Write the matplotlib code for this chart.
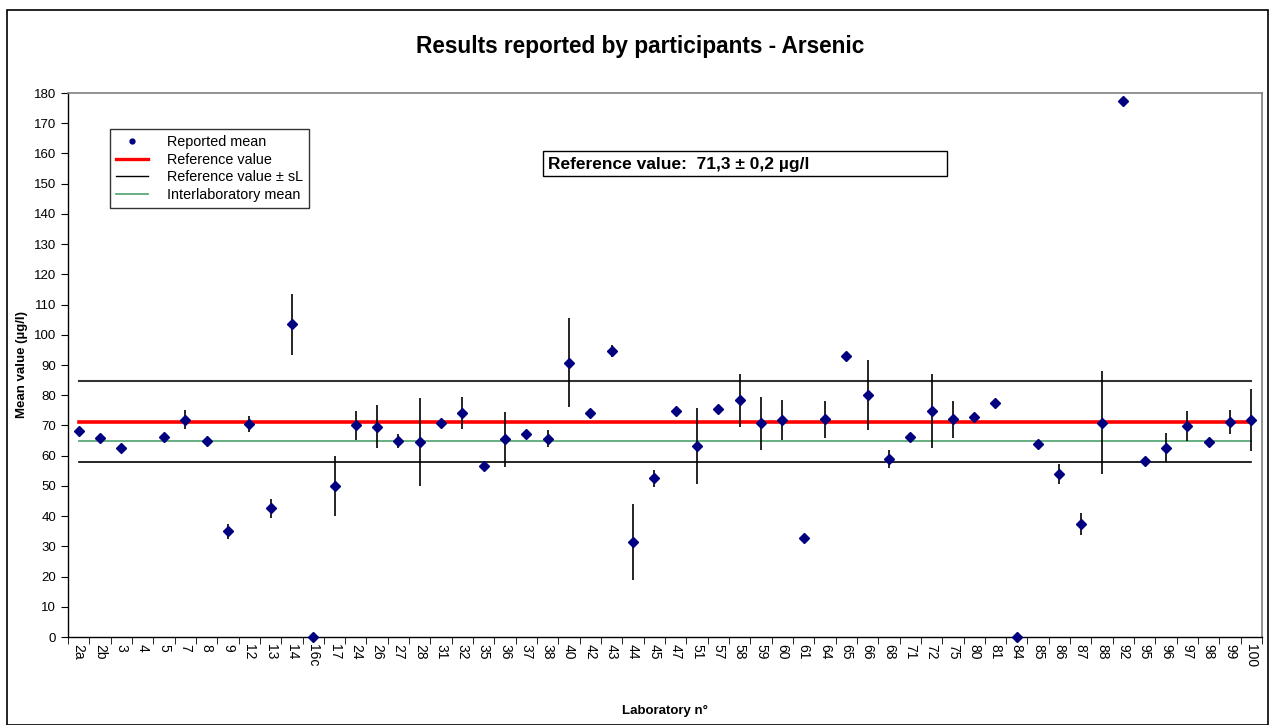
import numpy as np
import matplotlib
matplotlib.use("Agg")
from matplotlib import pyplot as plt
from matplotlib.lines import Line2D
from matplotlib.patches import Rectangle

plt.rcParams["font.family"] = ["Liberation Sans", "DejaVu Sans"]

# Laboratory codes (x categories)
labs = ["2a", "2b", "3", "4", "5", "7", "8", "9", "12", "13", "14", "16c", "17", "24",
        "26", "27", "28", "31", "32", "35", "36", "37", "38", "40", "42", "43", "44", "45",
        "47", "51", "57", "58", "59", "60", "61", "64", "65", "66", "68", "71", "72", "75",
        "80", "81", "84", "85", "86", "87", "88", "92", "95", "96", "97", "98", "99", "100"]

# Reported means (µg/l), lab 4 reported nothing
means = [68.0, 65.7, 62.6, np.nan, 66.2, 71.9, 65.0, 35.0, 70.4, 42.6, 103.5, 0.0, 49.9, 70.0,
         69.6, 64.9, 64.5, 70.8, 74.0, 56.6, 65.5, 67.3, 65.6, 90.8, 74.0, 94.6, 31.4, 52.5,
         74.9, 63.2, 75.4, 78.3, 70.7, 71.8, 32.8, 72.0, 92.9, 80.0, 58.9, 66.2, 74.8, 72.1,
         72.9, 77.4, 0.0, 63.9, 53.9, 37.4, 70.9, 177.4, 58.2, 62.7, 69.8, 64.6, 71.2, 71.8]

# Half width of the error bars
errs = [0.0, 0.0, 0.0, np.nan, 0.0, 3.1, 0.0, 2.5, 2.7, 3.1, 10.1, 0.0, 10.0, 4.8,
        7.2, 2.3, 14.7, 0.0, 5.3, 0.0, 9.1, 0.0, 2.8, 14.7, 0.0, 2.0, 12.7, 2.9,
        0.0, 12.6, 0.0, 8.8, 8.8, 6.7, 0.0, 6.1, 0.0, 11.6, 3.1, 0.0, 12.2, 6.1,
        0.0, 0.0, 0.0, 0.0, 3.3, 3.7, 17.0, 0.0, 0.0, 4.9, 5.0, 0.0, 3.9, 10.1]

ref_value = 71.3
ref_unc = 0.2
s_l = 13.3
interlab_mean = 65.0

x = np.arange(len(labs))
means = np.array(means)
errs = np.array(errs)

fig = plt.figure(figsize=(12.7, 7.25), dpi=100)
ax = fig.add_axes([68 / 1270, 1 - 637 / 725, (1262 - 68) / 1270, (637 - 93) / 725])

# outer chart frame
fig.patches.append(Rectangle((7 / 1270, 0.0), (1268 - 7) / 1270, 1 - 10 / 725,
                             transform=fig.transFigure, fill=False, edgecolor="black", lw=1.2))

# reference lines across the categories
x_ends = [x[0], x[-1]]
ax.plot(x_ends, [ref_value + s_l] * 2, color="#333333", lw=1.5, zorder=2)
ax.plot(x_ends, [ref_value - s_l] * 2, color="black", lw=1.2, zorder=2)
ax.plot(x_ends, [interlab_mean] * 2, color="#5aa878", lw=1.3, zorder=2)
ax.plot(x_ends, [ref_value] * 2, color="#ff0000", lw=2.6, zorder=2)

ax.errorbar(x, means, yerr=errs, fmt="none", ecolor="black", elinewidth=1.2, capsize=0, zorder=3)
ax.plot(x, means, linestyle="none", marker="D", markersize=5, color="#000080", zorder=4,
        clip_on=False)

ax.set_xlim(-0.5, len(labs) - 0.5)
ax.set_ylim(0, 180)
ax.set_yticks(np.arange(0, 181, 10))
ax.set_xticks(x)
ax.set_xticklabels(labs, rotation=-90, fontsize=10)
ax.set_xticks(np.arange(-0.5, len(labs), 1), minor=True)
ax.tick_params(axis="x", which="major", length=0, pad=5)
ax.tick_params(axis="x", which="minor", length=5, direction="out")
ax.tick_params(axis="y", labelsize=9.5, length=5, direction="out")

for side in ("top", "right"):
    ax.spines[side].set_color("#808080")
    ax.spines[side].set_linewidth(1.2)
for side in ("left", "bottom"):
    ax.spines[side].set_linewidth(1.0)

ax.set_xlabel("Laboratory n°", fontsize=9.5, fontweight="bold", labelpad=27)
ax.set_ylabel("Mean value (µg/l)", fontsize=9.5, fontweight="bold", labelpad=4)

fig.text(640 / 1270, 1 - 47 / 725, "Results reported by participants - Arsenic",
         ha="center", va="center", fontsize=16.3, fontweight="bold")

handles = [
    Line2D([], [], linestyle="none", marker="o", markersize=3.5, color="#000080"),
    Line2D([], [], color="#ff0000", lw=2.4),
    Line2D([], [], color="black", lw=1.0),
    Line2D([], [], color="#5aa878", lw=1.3),
]
names = ["Reported mean", "Reference value", "Reference value ± sL", "Interlaboratory mean"]
leg = ax.legend(handles, names, loc="upper left", bbox_to_anchor=(42 / 1194, 1 - 36 / 544),
                fontsize=10.4, frameon=True, fancybox=False, edgecolor="black",
                handlelength=2.2, handletextpad=1.3, labelspacing=0.25, borderpad=0.42,
                borderaxespad=0)
leg.get_frame().set_linewidth(1.0)

ax.text((548 - 68) / 1194, 1 - (164 - 93) / 544, "Reference value:  71,3 ± 0,2 µg/l",
        transform=ax.transAxes, ha="left", va="center", fontsize=12.5, fontweight="bold")
ax.add_patch(Rectangle(((543 - 68) / 1194, 1 - (176 - 93) / 544), (947 - 543) / 1194, 25 / 544,
                       transform=ax.transAxes, fill=False, edgecolor="black", lw=1.0))

fig.savefig("out.png", dpi=100)
